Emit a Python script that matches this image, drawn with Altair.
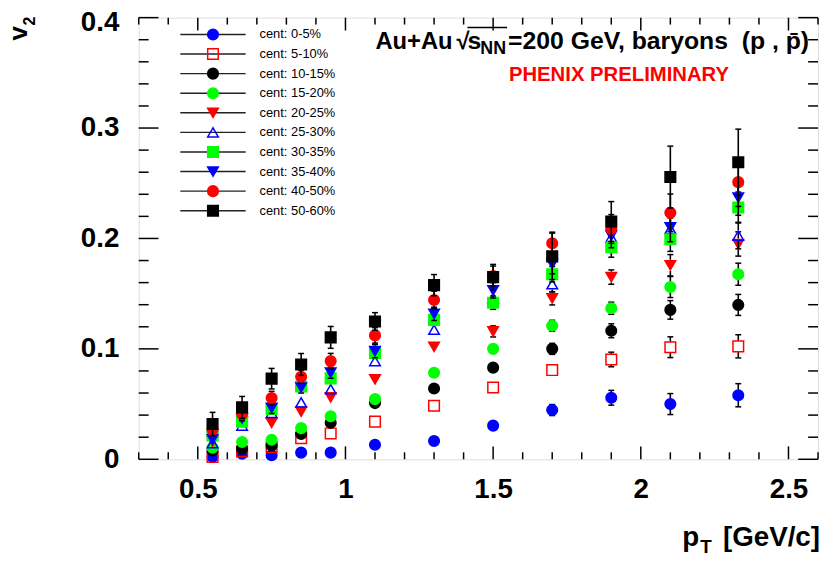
import altair as alt
import pandas as pd

# ---------------- data ----------------
cats = ["cent: 0-5%", "cent: 5-10%", "cent: 10-15%", "cent: 15-20%", "cent: 20-25%",
        "cent: 25-30%", "cent: 30-35%", "cent: 35-40%", "cent: 40-50%", "cent: 50-60%"]
shapes = ["circle", "square", "circle", "circle", "triangle-down",
          "triangle-up", "square", "triangle-down", "circle", "square"]
strokes = ["#0000ff", "#ff0000", "#000000", "#00ff00", "#ff0000",
           "#0000ff", "#00ff00", "#0000ff", "#ff0000", "#000000"]
fills = ["#0000ff", "transparent", "#000000", "#00ff00", "#ff0000",
         "transparent", "#00ff00", "#0000ff", "#ff0000", "#000000"]

pt = [0.55, 0.65, 0.75, 0.85, 0.95, 1.1, 1.3, 1.5, 1.7, 1.9, 2.1, 2.33]

v2 = [
    [0.002, 0.005, 0.0036, 0.006, 0.006, 0.0132, 0.0165, 0.0305, 0.0446, 0.0557, 0.050, 0.058],
    [0.002, 0.0072, 0.011, 0.0192, 0.0234, 0.0341, 0.0485, 0.065, 0.0808, 0.0904, 0.1015, 0.1023],
    [0.008, 0.0096, 0.0126, 0.023, 0.033, 0.0509, 0.0641, 0.083, 0.100, 0.1164, 0.1353, 0.1398],
    [0.0105, 0.0156, 0.0177, 0.0282, 0.039, 0.0545, 0.0784, 0.100, 0.1209, 0.1368, 0.156, 0.1676],
    [0.016, 0.034, 0.033, 0.0431, 0.056, 0.0724, 0.1018, 0.1158, 0.1458, 0.165, 0.1757, 0.195],
    [0.0147, 0.0305, 0.042, 0.0515, 0.0635, 0.0889, 0.1173, 0.146, 0.1586, 0.201, 0.2086, 0.2026],
    [0.0216, 0.034, 0.0455, 0.0659, 0.0733, 0.0964, 0.1263, 0.1418, 0.1676, 0.192, 0.1993, 0.228],
    [0.018, 0.037, 0.0465, 0.065, 0.0784, 0.0979, 0.1317, 0.153, 0.177, 0.2026, 0.210, 0.237],
    [0.0265, 0.041, 0.0555, 0.0748, 0.0889, 0.1122, 0.1443, 0.166, 0.1957, 0.2086, 0.2232, 0.251],
    [0.032, 0.047, 0.073, 0.0859, 0.1104, 0.1248, 0.1577, 0.165, 0.1838, 0.2154, 0.2556, 0.269],
]
err = [
    [0.002, 0.002, 0.002, 0.002, 0.002, 0.002, 0.003, 0.003, 0.005, 0.0067, 0.0095, 0.0105],
    [0.002, 0.002, 0.002, 0.002, 0.002, 0.003, 0.003, 0.004, 0.0045, 0.0066, 0.0094, 0.0105],
    [0.002, 0.002, 0.002, 0.002, 0.002, 0.003, 0.003, 0.004, 0.005, 0.0063, 0.0084, 0.0095],
    [0.002, 0.002, 0.002, 0.002, 0.003, 0.003, 0.003, 0.004, 0.005, 0.0055, 0.0095, 0.0100],
    [0.002, 0.002, 0.003, 0.003, 0.003, 0.004, 0.004, 0.005, 0.006, 0.0065, 0.0097, 0.011],
    [0.003, 0.003, 0.003, 0.004, 0.004, 0.004, 0.0045, 0.0045, 0.007, 0.008, 0.010, 0.012],
    [0.003, 0.003, 0.004, 0.004, 0.004, 0.005, 0.005, 0.006, 0.007, 0.009, 0.011, 0.014],
    [0.004, 0.004, 0.005, 0.005, 0.005, 0.006, 0.006, 0.007, 0.009, 0.011, 0.013, 0.016],
    [0.005, 0.006, 0.006, 0.006, 0.007, 0.007, 0.008, 0.009, 0.010, 0.013, 0.017, 0.022],
    [0.0105, 0.0099, 0.0093, 0.0099, 0.0099, 0.008, 0.0096, 0.0115, 0.021, 0.018, 0.028, 0.030],
]

x_major = [0.5, 1.0, 1.5, 2.0, 2.5]
x_minor = [0.3, 0.4, 0.6, 0.7, 0.8, 0.9, 1.1, 1.2, 1.3, 1.4, 1.6, 1.7, 1.8, 1.9,
           2.1, 2.2, 2.3, 2.4, 2.6]
y_major = [0.0, 0.1, 0.2, 0.3, 0.4]
y_minor = [0.02, 0.04, 0.06, 0.08, 0.12, 0.14, 0.16, 0.18, 0.22, 0.24, 0.26, 0.28,
           0.32, 0.34, 0.36, 0.38]

# ---------------- layout ----------------
W, H = 686, 446
FONT = "Liberation Sans"
MARK_HALF = 5.5 * 0.4 / H   # half marker height in data units (ROOT starts error bars at marker edge)

rows = []
for c, vals, es in zip(cats, v2, err):
    for x, v, e in zip(pt, vals, es):
        rows.append({"cent": c, "pt": x, "v2": v, "e": e, "lo": v - e, "hi": v + e,
                     "top0": v + MARK_HALF, "bot0": v - MARK_HALF})
df = pd.DataFrame(rows)

xscale = alt.Scale(domain=[0.3, 2.6], nice=False, zero=False)
yscale = alt.Scale(domain=[0.0, 0.4], nice=False, zero=False)
xaxis = alt.Axis(values=x_major, format=".2~f", title=None, grid=False, ticks=False,
                 tickSize=0, domain=False, labelFont=FONT, labelFontWeight="bold",
                 labelFontSize=28, labelColor="black", labelPadding=17, labelFlush=False,
                 labelOverlap=False)
yaxis = alt.Axis(values=y_major, format=".1~f", title=None, grid=False, ticks=False,
                 tickSize=0, domain=False, labelFont=FONT, labelFontWeight="bold",
                 labelFontSize=28, labelColor="black", labelPadding=20, labelFlush=False,
                 labelOverlap=False,
                 labelOffset={"condition": {"test": "datum.value >= 0.39", "value": 5}, "value": 0})

def X(f):
    return alt.X(f, type="quantitative", scale=xscale, axis=xaxis)

def Y(f):
    return alt.Y(f, type="quantitative", scale=yscale, axis=yaxis)

shape_enc = alt.Shape("cent:N", scale=alt.Scale(domain=cats, range=shapes), legend=None)
fill_enc = alt.Fill("cent:N", scale=alt.Scale(domain=cats, range=fills), legend=None)
stroke_enc = alt.Stroke("cent:N", scale=alt.Scale(domain=cats, range=strokes), legend=None)

base = alt.Chart(df)
main_layers = []

# ticks (ROOT style, inside the frame)
xmaj = alt.Chart(pd.DataFrame({"t": x_major}))
xmin = alt.Chart(pd.DataFrame({"t": x_minor}))
ymaj = alt.Chart(pd.DataFrame({"t": y_major}))
ymin = alt.Chart(pd.DataFrame({"t": y_minor}))
tk = dict(color="black", strokeWidth=1.5)
main_layers += [
    xmaj.mark_rule(**tk).encode(x=X("t"), y=alt.value(H), y2=alt.value(H - 13)),
    xmin.mark_rule(**tk).encode(x=X("t"), y=alt.value(H), y2=alt.value(H - 7)),
    xmaj.mark_rule(**tk).encode(x=X("t"), y=alt.value(0), y2=alt.value(13)),
    xmin.mark_rule(**tk).encode(x=X("t"), y=alt.value(0), y2=alt.value(7)),
    ymaj.mark_rule(**tk).encode(y=Y("t"), x=alt.value(0), x2=alt.value(20)),
    ymin.mark_rule(**tk).encode(y=Y("t"), x=alt.value(0), x2=alt.value(10)),
    ymaj.mark_rule(**tk).encode(y=Y("t"), x=alt.value(W), x2=alt.value(W - 20)),
    ymin.mark_rule(**tk).encode(y=Y("t"), x=alt.value(W), x2=alt.value(W - 10)),
]

cap = dict(orient="horizontal", size=6, thickness=1.5, color="black", opacity=1)
for c in cats:
    sub = base.transform_filter(alt.datum.cent == c).transform_filter(alt.datum.e > MARK_HALF)
    main_layers += [
        sub.mark_rule(color="black", strokeWidth=1.6).encode(x=X("pt"), y=Y("top0"), y2=alt.Y2("hi")),
        sub.mark_rule(color="black", strokeWidth=1.6).encode(x=X("pt"), y=Y("lo"), y2=alt.Y2("bot0")),
        sub.mark_tick(**cap).encode(x=X("pt"), y=Y("hi")),
        sub.mark_tick(**cap).encode(x=X("pt"), y=Y("lo")),
        base.transform_filter(alt.datum.cent == c)
            .mark_point(size=115, strokeWidth=1.5, opacity=1, fillOpacity=1)
            .encode(x=X("pt"), y=Y("v2"), shape=shape_enc, fill=fill_enc, stroke=stroke_enc),
    ]

# annotations (positions in pixels relative to the plot area)
def label(txt, x, y, size, color="black", weight="bold", align="left", angle=0):
    return alt.Chart(pd.DataFrame({"txt": [txt]})).mark_text(
        font=FONT, fontSize=size, fontWeight=weight, color=color, align=align,
        baseline="alphabetic", angle=angle
    ).encode(x=alt.value(x), y=alt.value(y), text="txt:N")

main_layers += [
    label("Au+Au", 239, 32, 24),
    label("\u221a", 321, 32, 24),
    label("s", 332, 32, 25),
    label("NN", 345, 37, 18),
    label("=200 GeV, baryons\u00a0 (p , p\u0304)", 373, 32, 25),
    alt.Chart(pd.DataFrame({"a": [0]})).mark_rule(color="black", strokeWidth=1.6).encode(
        x=alt.value(332), x2=alt.value(372), y=alt.value(10)),
    label("PHENIX PRELIMINARY", 485, 64, 20.5, color="#ff0000", align="center"),
    label("v", -113, 23, 26, angle=270),
    label("2", -105, 8, 16, angle=270),
    label("p", 549, 534, 28),
    label("T", 567, 541, 19),
    label("[GeV/c]", 688, 534, 28, align="right"),
]

main = alt.layer(*main_layers)

# manual legend
leg_df = pd.DataFrame({"cent": cats})
ly = alt.Y("cent:N", scale=alt.Scale(type="point", domain=cats, range=[17, 195], padding=0), axis=None)
legend = alt.layer(
    alt.Chart(leg_df).mark_rule(color="#222222", strokeWidth=1.4).encode(
        y=ly, x=alt.value(42), x2=alt.value(108)),
    alt.Chart(leg_df).mark_point(size=115, strokeWidth=1.5, opacity=1, fillOpacity=1).encode(
        y=ly, x=alt.value(75), shape=shape_enc, fill=fill_enc, stroke=stroke_enc),
    alt.Chart(leg_df).mark_text(font=FONT, fontSize=13, align="left", baseline="middle",
                                color="black").encode(y=ly, x=alt.value(122), text="cent:N"),
)

chart = alt.layer(main, legend).resolve_scale(y="independent").properties(
    width=W, height=H,
    autosize=alt.AutoSizeParams(type="none"),
    padding={"left": 132, "top": 7, "right": 2, "bottom": 100},
).configure_view(stroke="black", strokeWidth=2).configure(background="white")

chart.save("out.html", embed_options={"renderer": "svg", "actions": False})
